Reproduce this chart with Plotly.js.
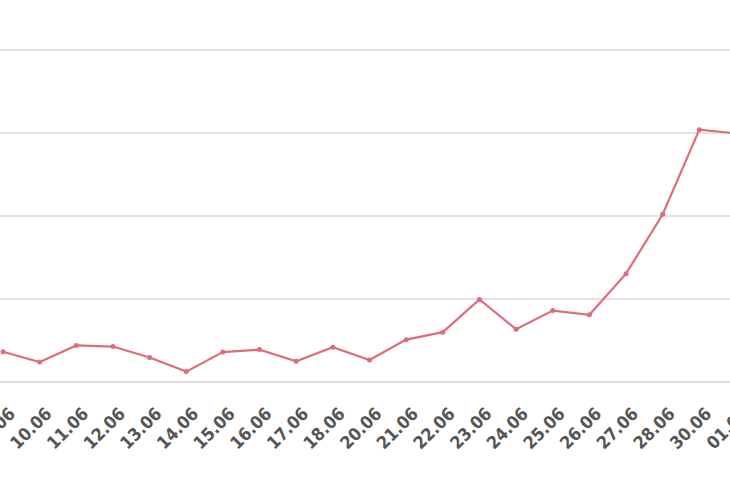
<!DOCTYPE html>
<html>
<head>
<meta charset="utf-8">
<script src="https://cdn.plot.ly/plotly-3.0.1.min.js"></script>
<style>html,body{margin:0;padding:0;background:#fff;overflow:hidden;width:730px;height:500px;}#chart{width:800px;height:500px;}</style>
</head>
<body>
<div id="chart"></div>
<script>
const dates = ["09.06","10.06","11.06","12.06","13.06","14.06","15.06","16.06","17.06","18.06","20.06","21.06","22.06","23.06","24.06","25.06","26.06","27.06","28.06","30.06","01.07"];
const values = [36.5, 24, 44, 42.7, 29.5, 12.5, 36, 39, 25, 42, 26.5, 51, 60, 99.5, 63.5, 86, 81, 130.5, 202, 304, 299.5];
const yTicks = [0, 100, 200, 300, 400];

const trace = {
  x: dates,
  y: values,
  type: 'scatter',
  mode: 'lines+markers',
  line: {color: '#e06c7a', width: 2.2},
  marker: {color: '#e06c7a', size: 5},
  cliponaxis: false,
  hoverinfo: 'skip'
};

const layout = {
  width: 800, height: 500,
  margin: {l: 0, r: 0, t: 0, b: 117.5, pad: 0},
  paper_bgcolor: '#fff', plot_bgcolor: '#fff',
  showlegend: false,
  xaxis: {
    type: 'category',
    range: [-0.082, 21.746],
    tickangle: -45,
    showgrid: false, showline: false, zeroline: false,
    ticks: '',
    ticklabelstandoff: 17,
    ticklabelshift: 7,
    tickfont: {family: 'DejaVu Sans Condensed, DejaVu Sans', size: 17.5, color: '#555', weight: 'bold'}
  },
  yaxis: {
    range: [0, 460.15],
    tickvals: yTicks,
    showticklabels: false,
    showgrid: true, gridcolor: '#e3e3e3', gridwidth: 1.2,
    zeroline: true, zerolinecolor: '#dcdcdc', zerolinewidth: 1.5,
    showline: false, ticks: ''
  }
};

Plotly.newPlot('chart', [trace], layout, {staticPlot: true, displayModeBar: false});
</script>
</body>
</html>
